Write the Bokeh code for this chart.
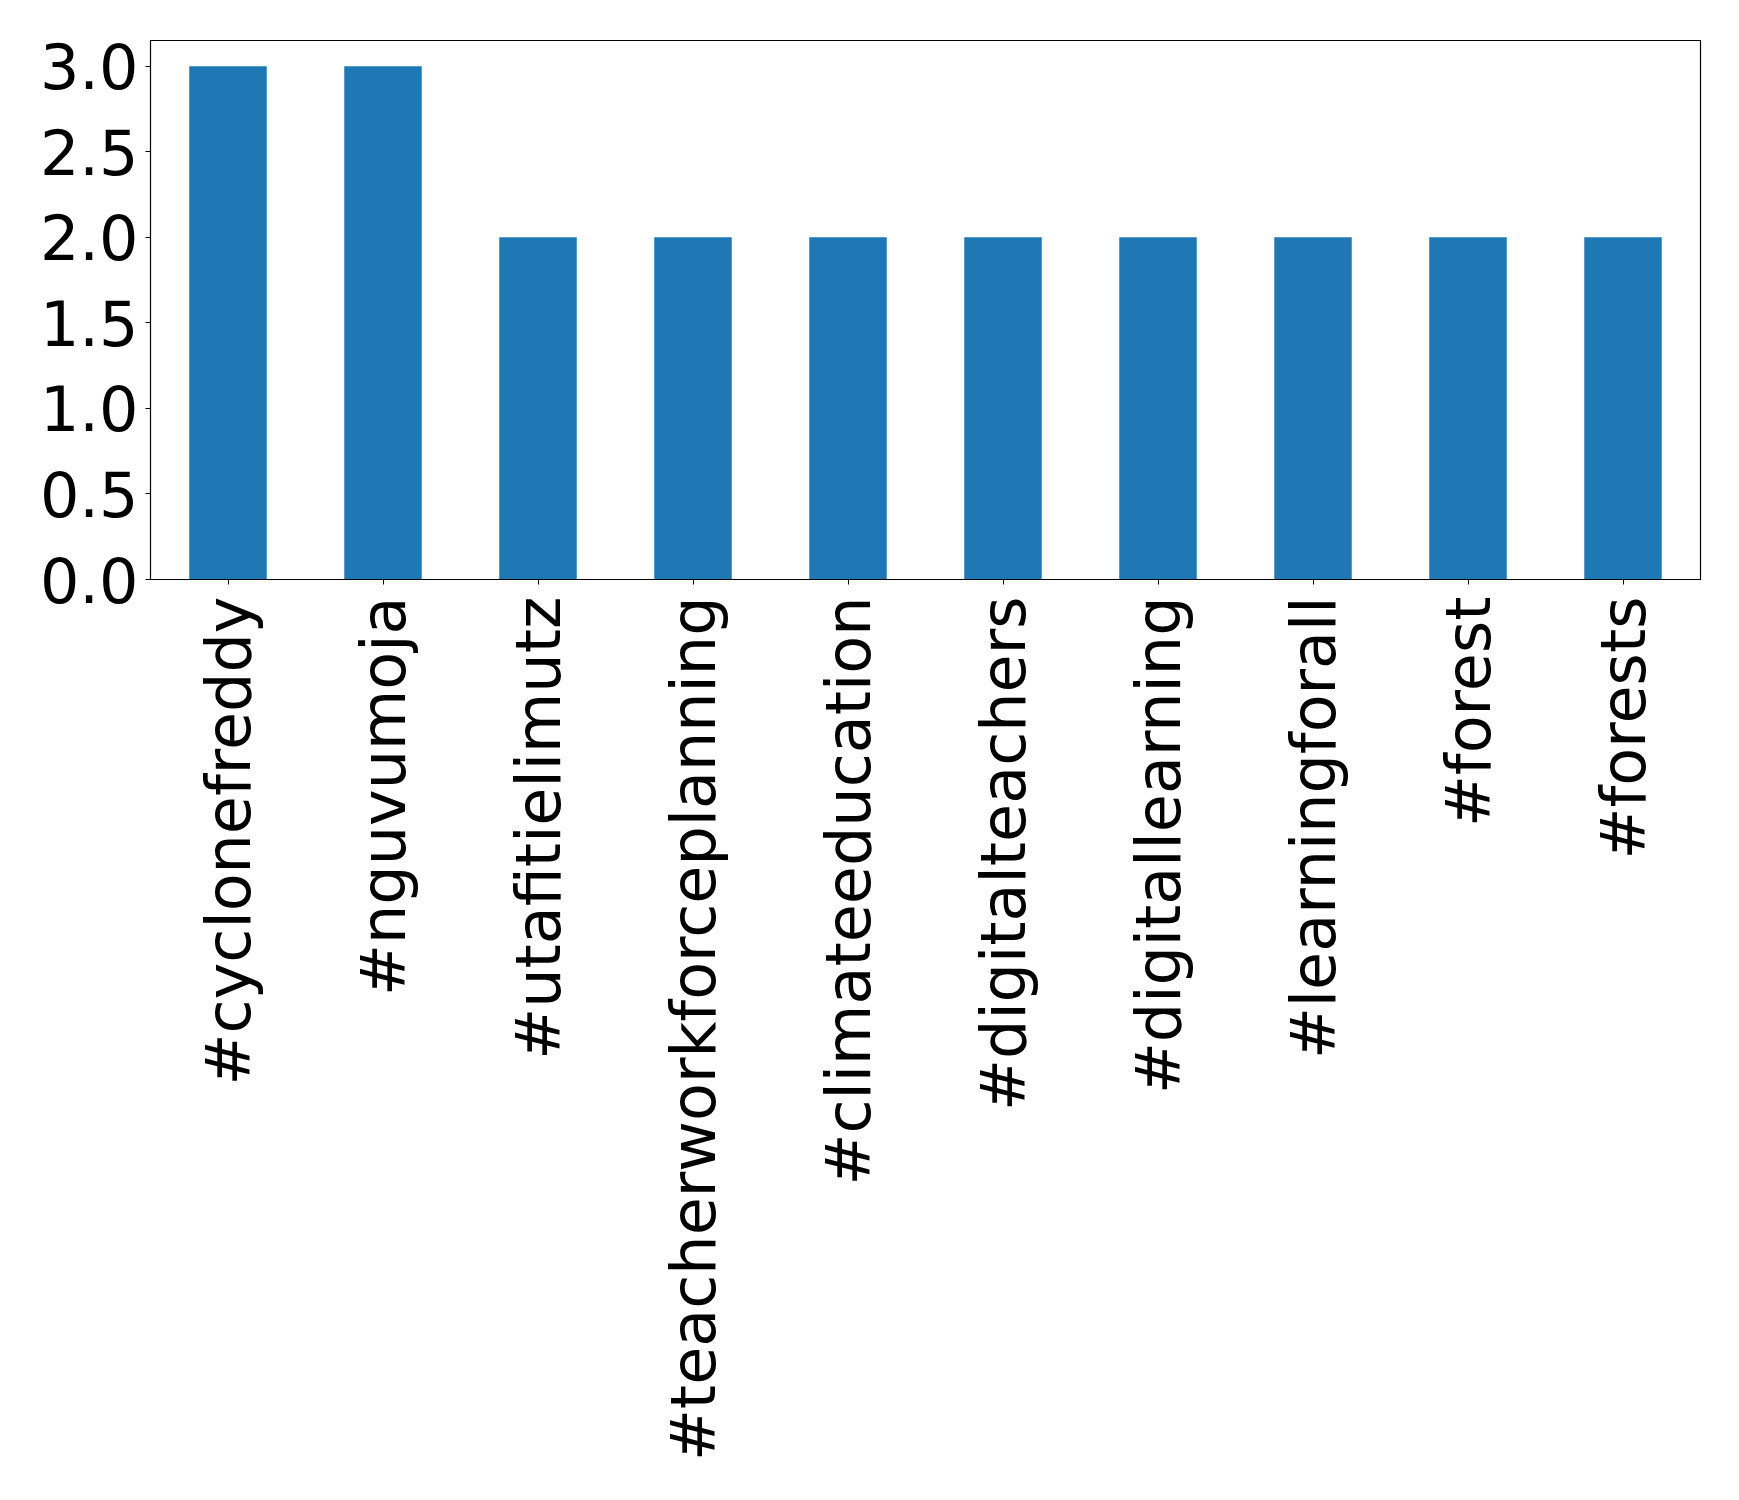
import math
from bokeh.plotting import figure
from bokeh.models import ColumnDataSource, Range1d, FixedTicker, NumeralTickFormatter
from bokeh.embed import file_html
from bokeh.resources import INLINE

hashtags = ["#cyclonefreddy", "#nguvumoja", "#utafitielimutz", "#teacherworkforceplanning",
            "#climateeducation", "#digitalteachers", "#digitallearning", "#learningforall",
            "#forest", "#forests"]
counts = [3, 3, 2, 2, 2, 2, 2, 2, 2, 2]
y_ticks = [0.0, 0.5, 1.0, 1.5, 2.0, 2.5, 3.0]

src = ColumnDataSource(dict(tag=hashtags, count=counts))

p = figure(x_range=hashtags, width=1739, height=1500, output_backend="svg",
           toolbar_location=None, min_border_left=150, min_border_right=39,
           min_border_top=40, min_border_bottom=921)
p.y_range = Range1d(0, 3.15)
p.x_range.range_padding = 0
p.vbar(x="tag", top="count", width=0.5, source=src, color="#1f77b4", line_color=None)

p.xgrid.visible = False
p.ygrid.visible = False
p.outline_line_color = "black"
p.outline_line_width = 1.2

for ax in (p.xaxis[0], p.yaxis[0]):
    ax.major_label_text_font = "DejaVu Sans"
    ax.major_label_text_font_size = "62px"
    ax.major_label_text_color = "black"
    ax.axis_line_color = "black"
    ax.major_tick_line_color = "black"
    ax.major_tick_out = 5
    ax.major_tick_in = 0
    ax.minor_tick_line_color = None

p.yaxis[0].ticker = FixedTicker(ticks=y_ticks)
p.yaxis[0].formatter = NumeralTickFormatter(format="0.0")
p.yaxis[0].major_label_standoff = 7
p.xaxis[0].major_label_orientation = math.pi / 2
p.xaxis[0].major_label_standoff = 12
p.xaxis[0].group_text_font_size = "0px"

open("out.html", "w").write(file_html(p, INLINE))
